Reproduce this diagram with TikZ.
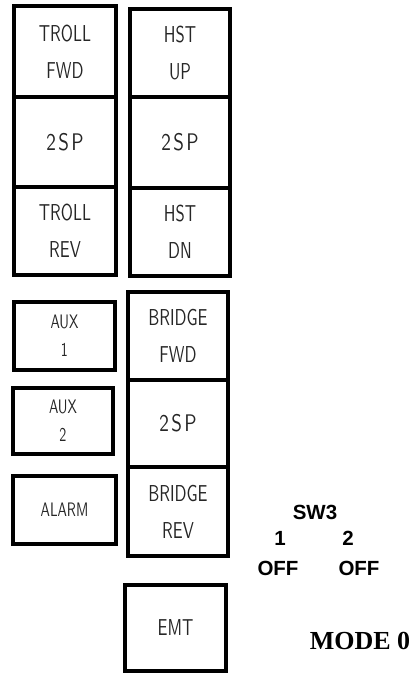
\documentclass[tikz,border=0pt]{standalone}
\usepackage{fontspec}
\setsansfont{Liberation Sans}
\newfontfamily\panelfont[FakeStretch=0.72]{lmsans10-regular.otf}
\newfontfamily\spreadfont[FakeStretch=0.8, LetterSpace=10]{lmsans10-regular.otf}
\newfontfamily\modefont{Liberation Serif}
\usetikzlibrary{positioning}
\tikzset{
  every picture/.style={x=1pt, y=-1pt},
  cell/.style={draw, line width=4.8pt, align=center, inner sep=0pt, text=black!85,
    font=\panelfont\fontsize{23}{37}\selectfont},
  speedcell/.style={cell, font=\spreadfont\fontsize{24}{37}\selectfont},
  smallcell/.style={cell, font=\panelfont\fontsize{19.5}{28}\selectfont},
  swtext/.style={font=\sffamily\bfseries\fontsize{20.5}{24}\selectfont},
  mode/.style={font=\modefont\bfseries\fontsize{26}{30}\selectfont},
}

\begin{document}
\begin{tikzpicture}
  \useasboundingbox (0,0) rectangle (411,673);
  % trolley column
  \node[cell, minimum width=102, minimum height=91] (trollfwd) at (65,51.5) {TROLL\\FWD};
  \node[speedcell, minimum width=102, minimum height=90] (trolltwo) at (65,142) {2SP};
  \node[cell, minimum width=102, minimum height=88] (trollrev) at (65,231) {TROLL\\REV};
  % hoist column
  \node[cell, minimum width=100, minimum height=88] (hstup) at (180,53) {HST\\UP};
  \node[speedcell, minimum width=100, minimum height=91] (hsttwo) at (180,142.5) {2SP};
  \node[cell, minimum width=100, minimum height=88] (hstdn) at (180,232) {HST\\DN};
  % bridge column
  \node[cell, minimum width=100, minimum height=88] (bridgefwd) at (178,336) {BRIDGE\\FWD};
  \node[speedcell, minimum width=100, minimum height=87] (bridgetwo) at (178,423.5) {2SP};
  \node[cell, minimum width=100, minimum height=89] (bridgerev) at (178,511.5) {BRIDGE\\REV};
  % single buttons
  \node[smallcell, minimum width=101, minimum height=68] (aux1) at (64.5,336) {AUX\\1};
  \node[smallcell, minimum width=100, minimum height=66] (aux2) at (63,421) {AUX\\2};
  \node[smallcell, minimum width=103, minimum height=68] (alarm) at (64.5,510) {ALARM};
  \node[cell, minimum width=101, minimum height=86] (emt) at (175.5,628) {EMT};
  % switch setting
  \node[swtext] (sw3) at (315,512) {SW3};
  \node[swtext] (one) at (280,538) {1};
  \node[swtext] (two) at (348,538) {2};
  \node[swtext] (off1) at (278,568) {OFF};
  \node[swtext] (off2) at (359,568) {OFF};
  \node[mode] (mode) at (360,641) {MODE 0};
\end{tikzpicture}
\end{document}
